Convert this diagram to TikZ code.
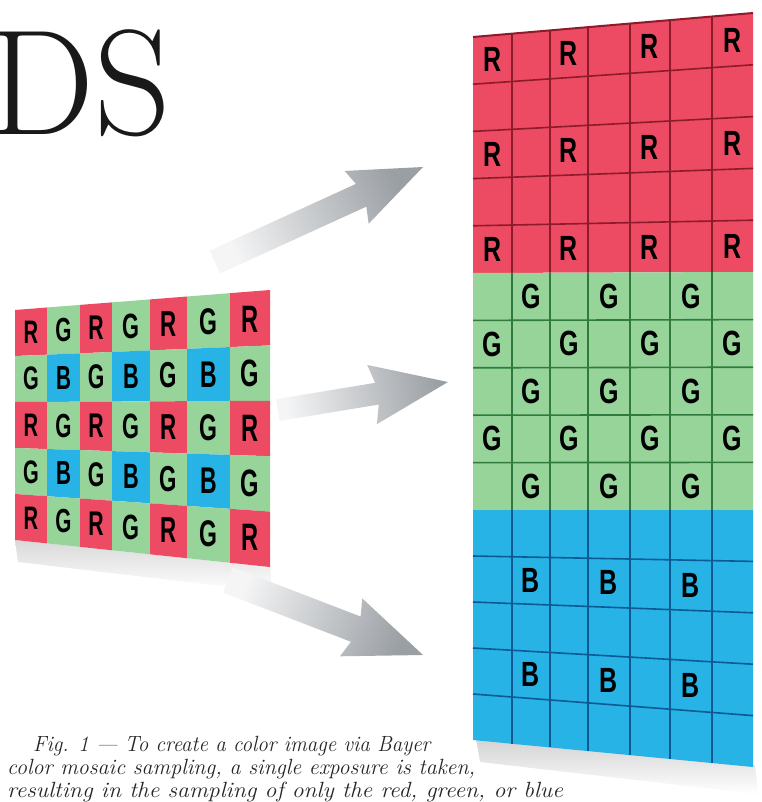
\documentclass[tikz,border=0pt]{standalone}
\usepackage{fontspec}
\usepackage{graphicx}
\usetikzlibrary{calc}
\newfontfamily\lettersf{Liberation Sans}
\definecolor{mred}{HTML}{EC4B63}
\definecolor{mgreen}{HTML}{96D49A}
\definecolor{mblue}{HTML}{27B3E6}
\definecolor{redline}{HTML}{8E1B2B}
\definecolor{greenline}{HTML}{2F7A3C}
\definecolor{blueline}{HTML}{0B5A95}
\definecolor{arrowgray}{HTML}{9A9FA4}
\tikzset{
  capt/.style={anchor=base west, inner sep=0pt, font=\itshape\fontsize{22}{24}\selectfont, text=black!85},
  letnode/.style={inner sep=0pt},
  arrowshade/.style={top color=arrowgray!10, middle color=arrowgray!85, bottom color=arrowgray}
}
\begin{document}
\begin{tikzpicture}[x=1pt,y=-1pt]
\useasboundingbox (0,0) rectangle (761,802);
\fill[white] (0,0) rectangle (761,802);

% big title fragment
\node[anchor=base west, inner sep=0pt, font=\fontsize{150}{150}\selectfont, text=black!90] (title) at (-12,135) {DS};

% shadows
\shade[top color=gray!30, bottom color=white] (15,540) -- (270,567) -- (272,592) -- (18,562) -- cycle;
\shade[top color=gray!35, bottom color=white] (476,738) -- (755,765) -- (758,794) -- (480,762) -- cycle;

% left Bayer mosaic
\foreach \xa/\xb [count=\c from 0] in {15/47,47/80,80/112,112/150,150/187,187/230,230/270}{
  \foreach \r in {0,...,4}{
    \pgfmathsetmacro{\tA}{310-20*(\xa-15)/255}
    \pgfmathsetmacro{\bA}{540+27*(\xa-15)/255}
    \pgfmathsetmacro{\tB}{310-20*(\xb-15)/255}
    \pgfmathsetmacro{\bB}{540+27*(\xb-15)/255}
    \pgfmathsetmacro{\yAa}{\tA+(\bA-\tA)*\r/5}
    \pgfmathsetmacro{\yAb}{\tA+(\bA-\tA)*(\r+1)/5}
    \pgfmathsetmacro{\yBa}{\tB+(\bB-\tB)*\r/5}
    \pgfmathsetmacro{\yBb}{\tB+(\bB-\tB)*(\r+1)/5}
    \pgfmathtruncatemacro{\kind}{mod(\r,2)*2+mod(\c,2)}
    \ifcase\kind \def\cc{mred}\def\ll{R}\or\def\cc{mgreen}\def\ll{G}\or\def\cc{mgreen}\def\ll{G}\else\def\cc{mblue}\def\ll{B}\fi
    \fill[\cc] (\xa,\yAa) -- (\xb,\yBa) -- (\xb,\yBb) -- (\xa,\yAb) -- cycle;
    \pgfmathsetmacro{\hh}{(\yAb-\yAa+\yBb-\yBa)/2}
    \pgfmathsetmacro{\sy}{0.5*\hh/7.16}
    \pgfmathsetmacro{\sx}{0.62*\sy}
    \node[letnode] (m\r\c) at ({(\xa+\xb)/2},{(\yAa+\yAb+\yBa+\yBb)/4}) {\scalebox{\sx}[\sy]{\lettersf\bfseries\ll}};
  }
}

% right panel: three colour planes
\foreach \s/\Lt/\Lb/\Rt/\Rb/\cc/\lc/\ll in {0/37/273/13/272/mred/redline/R,1/273/510/272/510/mgreen/greenline/G,2/510/740/510/767/mblue/blueline/B}{
  \foreach \xa/\xb [count=\c from 0] in {473/512,512/550,550/588,588/630,630/670,670/712,712/753}{
    \foreach \r in {0,...,4}{
      \pgfmathsetmacro{\yLa}{\Lt+(\Lb-\Lt)*\r/5}
      \pgfmathsetmacro{\yLb}{\Lt+(\Lb-\Lt)*(\r+1)/5}
      \pgfmathsetmacro{\yRa}{\Rt+(\Rb-\Rt)*\r/5}
      \pgfmathsetmacro{\yRb}{\Rt+(\Rb-\Rt)*(\r+1)/5}
      \pgfmathsetmacro{\yAa}{\yLa+(\yRa-\yLa)*(\xa-473)/280}
      \pgfmathsetmacro{\yAb}{\yLb+(\yRb-\yLb)*(\xa-473)/280}
      \pgfmathsetmacro{\yBa}{\yLa+(\yRa-\yLa)*(\xb-473)/280}
      \pgfmathsetmacro{\yBb}{\yLb+(\yRb-\yLb)*(\xb-473)/280}
      \fill[\cc] (\xa,\yAa) -- (\xb,\yBa) -- (\xb,\yBb) -- (\xa,\yAb) -- cycle;
      \ifcase\s
        \pgfmathtruncatemacro{\show}{(1-mod(\r,2))*(1-mod(\c,2))}
      \or
        \pgfmathtruncatemacro{\show}{mod(\r+\c,2)}
      \else
        \pgfmathtruncatemacro{\show}{mod(\r,2)*mod(\c,2)}
      \fi
      \ifnum\show=1
        \node[letnode] (p\s\r\c) at ({(\xa+\xb)/2},{(\yAa+\yAb+\yBa+\yBb)/4}) {\scalebox{2.5}[3.5]{\lettersf\bfseries\ll}};
      \fi
    }
  }
  % horizontal grid lines
  \foreach \r in {1,...,4}{
    \pgfmathsetmacro{\yL}{\Lt+(\Lb-\Lt)*\r/5}
    \pgfmathsetmacro{\yR}{\Rt+(\Rb-\Rt)*\r/5}
    \draw[\lc, line width=1.6pt] (473,\yL) -- (753,\yR);
  }
  % vertical grid lines
  \foreach \x/\w in {512/1.4,550/1.4,588/1.4,630/2.6,670/1.4,712/1.4}{
    \pgfmathsetmacro{\yT}{\Lt+(\Rt-\Lt)*(\x-473)/280}
    \pgfmathsetmacro{\yB}{\Lb+(\Rb-\Lb)*(\x-473)/280}
    \draw[\lc, line width=\w pt] (\x,\yT) -- (\x,\yB);
  }
}
\draw[redline, line width=2pt] (473,37) -- (753,13);

% fat grey arrows
\coordinate (a1t) at (215,262); \coordinate (a1p) at (423,167);
\coordinate (a2t) at (278,410); \coordinate (a2p) at (448,382);
\coordinate (a3t) at (228,580); \coordinate (a3p) at (423,655);
\foreach \n/\sw/\hw/\hl/\ang in {1/12.5/29/68/114.5, 2/11/30/72/99.4, 3/13.5/31/72/69}{
  \coordinate (h\n) at ($(a\n p)!\hl pt!(a\n t)$);
  \coordinate (b\n) at ($(a\n p)!\hl pt+5pt!(a\n t)$);
  \shade[arrowshade, shading angle=\ang]
    ($(a\n t)!\sw pt!90:(a\n p)$) -- ($(h\n)!\sw pt!-90:(a\n t)$) -- ($(b\n)!\hw pt!-90:(a\n t)$)
    -- (a\n p) -- ($(b\n)!\hw pt!90:(a\n t)$) -- ($(h\n)!\sw pt!90:(a\n t)$) -- ($(a\n t)!\sw pt!-90:(a\n p)$) -- cycle;
}

% caption
\node[capt] (cap1) at (33,751) {\scalebox{0.955}[1]{Fig. 1 — To create a color image via Bayer}};
\node[capt] (cap2) at (7,774) {color mosaic sampling, a single exposure is taken,};
\node[capt] (cap3) at (7,797) {\scalebox{1.075}[1]{resulting in the sampling of only the red, green, or blue}};
\end{tikzpicture}
\end{document}
